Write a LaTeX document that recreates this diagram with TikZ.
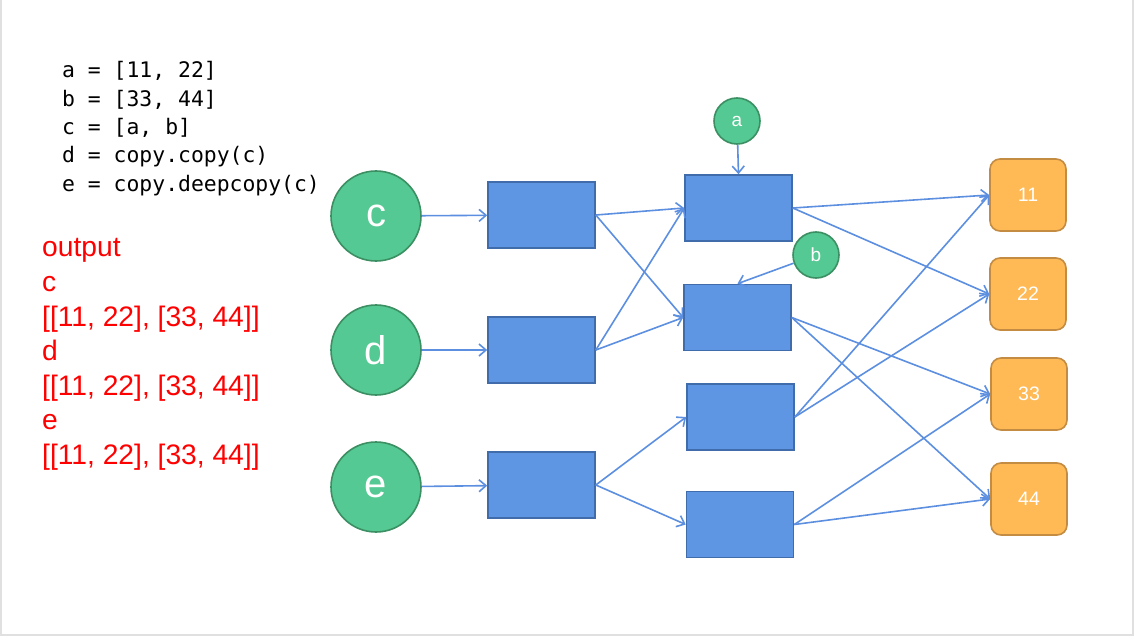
\documentclass[tikz,border=0pt]{standalone}
\usepackage{fontspec}
\setmainfont{Liberation Sans}
\setmonofont{DejaVu Sans Mono}
\usetikzlibrary{arrows.meta}

\definecolor{varfill}{HTML}{55C993}
\definecolor{vardraw}{HTML}{3B8F62}
\definecolor{cellfill}{HTML}{5F96E4}
\definecolor{celldraw}{HTML}{416CAC}
\definecolor{valfill}{HTML}{FFB955}
\definecolor{valdraw}{HTML}{C38C42}
\definecolor{linkcol}{HTML}{5C8FE0}
\definecolor{outred}{HTML}{FF0000}

\begin{document}
\begin{tikzpicture}[x=1pt, y=-1pt,
        var/.style={circle, draw=vardraw, fill=varfill, line width=1.6pt, text=white, inner sep=0pt},
        bigvar/.style={var, minimum size=90pt, font=\fontsize{40}{40}\selectfont},
        smallvar/.style={var, minimum size=46pt, font=\fontsize{19}{19}\selectfont},
        cell/.style={rectangle, draw=celldraw, fill=cellfill, line width=1.6pt, minimum width=107pt, minimum height=66pt},
        val/.style={rectangle, rounded corners=10pt, draw=valdraw, fill=valfill, line width=1.6pt,
            minimum width=76pt, minimum height=72pt, text=white, font=\fontsize{19.5}{19.5}\selectfont},
        link/.style={linkcol, line width=1.6pt, -{Straight Barb[length=7pt, width=12pt]}}
    ]
    \useasboundingbox (0,0) rectangle (1134,636);
    % frame
    \draw[black!12, line width=2pt] (1,0) -- (1,635) -- (1133,635) -- (1133,0);

    % code
    \foreach \txt [count=\i] in {{a = [11, 22]}, {b = [33, 44]}, {c = [a, b]},
            {d = copy.copy(c)}, {e = copy.deepcopy(c)}} {
        \node (code\i) [anchor=base west, inner sep=0pt, font=\ttfamily\fontsize{21.4}{21.4}\selectfont]
            at (62, {78 + 28.3*(\i-1)}) {\txt};
    }

    % output
    \foreach \txt [count=\i] in {output, c, {[[11, 22], [33, 44]]}, d,
            {[[11, 22], [33, 44]]}, e, {[[11, 22], [33, 44]]}} {
        \node (out\i) [anchor=base west, inner sep=0pt, text=outred, font=\fontsize{28.2}{28.2}\selectfont]
            at (42, {257 + 34.5*(\i-1)}) {\txt};
    }

    % names
    \node[bigvar] (c) at (376, 216) {c};
    \node[bigvar] (d) at (376, 350) {d};
    \node[bigvar] (e) at (376, 487) {e};

    % outer lists
    \node[cell] (lc) at (541.5, 215) {};
    \node[cell] (ld) at (541.5, 350) {};
    \node[cell] (le) at (541.5, 485) {};

    % inner lists
    \node[cell] (la) at (738.5, 208) {};
    \node[cell] (lb) at (737.5, 317.5) {};
    \node[cell] (ma) at (740.5, 417) {};
    \node[cell] (mb) at (740, 524.5) {};

    \node[smallvar] (a) at (737, 121) {a};
    \node[smallvar] (b) at (816, 255) {b};

    % values
    \node[val] (v11) at (1028, 195) {11};
    \node[val] (v22) at (1028, 294) {22};
    \node[val] (v33) at (1029, 394) {33};
    \node[val] (v44) at (1029, 499) {44};

    % links
    \draw[link] (c) -- (lc);
    \draw[link] (d) -- (ld);
    \draw[link] (e) -- (le);
    \draw[link] (a) -- (la.north);
    \draw[link] (b) -- (lb.north);

    \foreach \from/\to in {lc/la, lc/lb, ld/la, ld/lb, le/ma, le/mb} {
        \draw[link] (\from.east) -- (\to.west);
    }
    \foreach \from/\to in {la/v11, la/v22, lb/v33, lb/v44, ma/v11, ma/v22, mb/v33, mb/v44} {
        \draw[link] (\from.east) -- (\to.west);
    }

\end{tikzpicture}
\end{document}
